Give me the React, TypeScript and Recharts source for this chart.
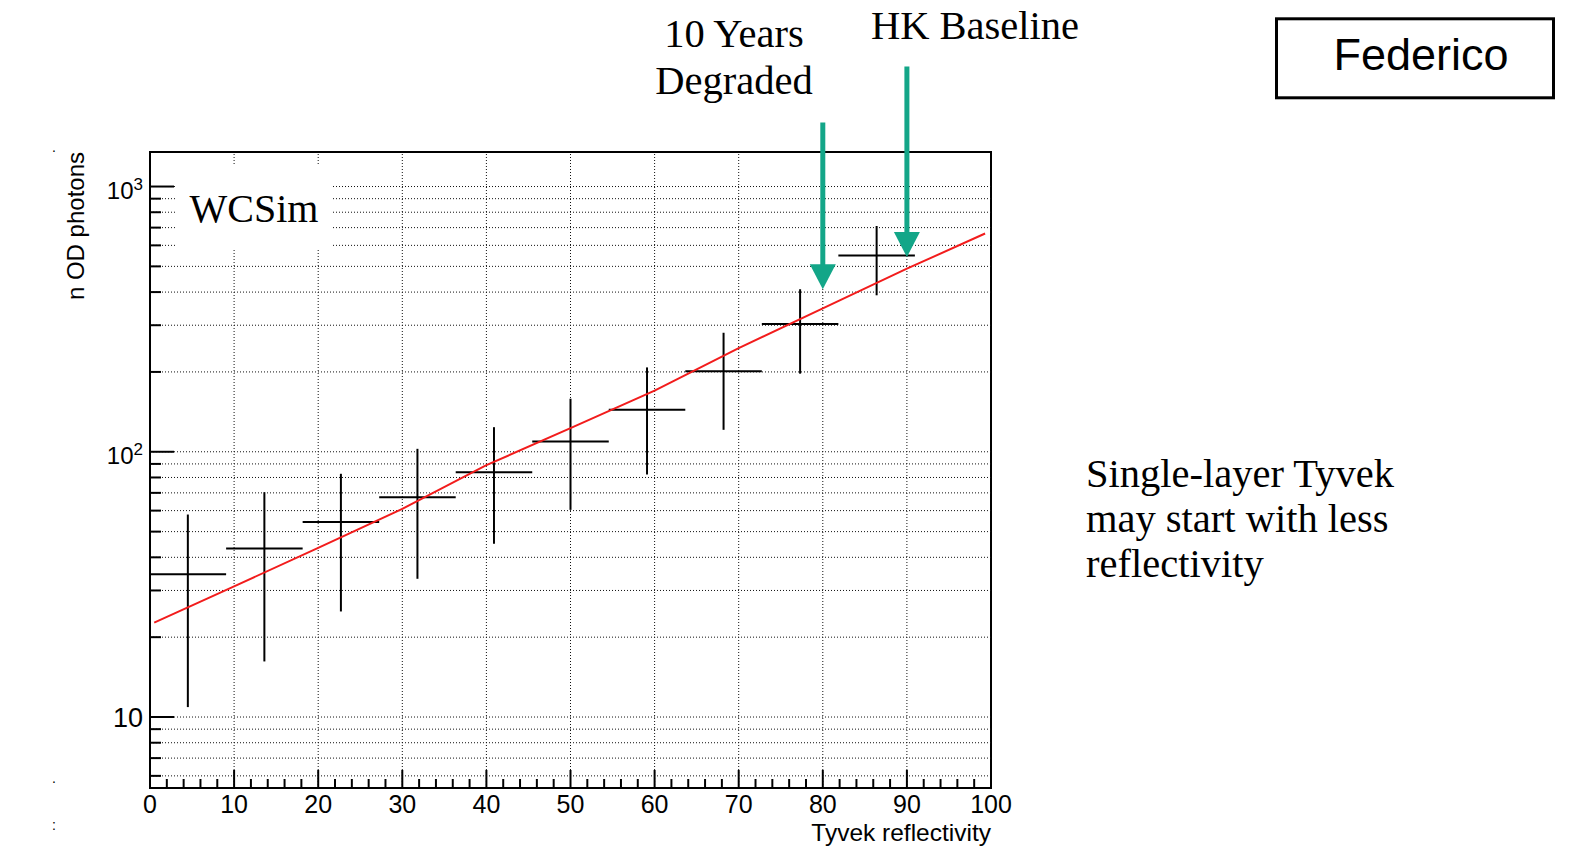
import React from "react";
import {
  ErrorBar,
  ReferenceArea,
  ReferenceLine,
  Scatter,
  ScatterChart,
  XAxis,
  YAxis,
} from "recharts";

// Bin centres (Tyvek reflectivity, %) and half bin width
const binCenter = [4.5, 13.6, 22.7, 31.8, 40.9, 50.0, 59.1, 68.2, 77.3, 86.4];
const binHalfWidth = [4.55, 4.55, 4.55, 4.55, 4.55, 4.55, 4.55, 4.55, 4.55, 4.55];
// n OD photons per bin, with the bottom / top of each error bar
const nPhotons = [34.5, 43.2, 54.3, 67.4, 83.8, 109.4, 144, 201, 303, 549];
const nLow = [10.9, 16.2, 25.0, 33.2, 45.0, 60.4, 82.1, 121, 197, 389];
const nHigh = [58.0, 70.4, 82.6, 102.6, 123.8, 158.5, 208, 281, 410, 710];

// red exponential fit
const fitX = [0.5, 10, 20, 30, 40, 50, 60, 70, 80, 90, 99.3];
const fitY = [22.7, 31.1, 43.4, 60.9, 89, 122.7, 170, 246, 347, 490, 665];

// arrows: "10 Years Degraded" and "HK Baseline"
const arrowX = [80, 90];
const arrowTop = [1745, 2832];
const arrowTip = [410, 542];

const xTicks = [
  0, 2, 4, 6, 8, 10, 12, 14, 16, 18, 20, 22, 24, 26, 28, 30, 32, 34, 36, 38, 40,
  42, 44, 46, 48, 50, 52, 54, 56, 58, 60, 62, 64, 66, 68, 70, 72, 74, 76, 78, 80,
  82, 84, 86, 88, 90, 92, 94, 96, 98, 100,
];
const xGrid = [10, 20, 30, 40, 50, 60, 70, 80, 90];
const yTicks = [
  6, 7, 8, 9, 10, 20, 30, 40, 50, 60, 70, 80, 90, 100, 200, 300, 400, 500, 600,
  700, 800, 900, 1000,
];
const yMajor = [10, 100, 1000];
const yDomain: [number, number] = [5.4, 1349.5];

const W = 1573;
const H = 847;
const PLOT_LEFT = 150;
const PLOT_RIGHT = 991;
const PLOT_TOP = 152;
const PLOT_BOTTOM = 788;

const TEAL = "#13a688";
const RED = "#f21c1c";
const SANS = "'Liberation Sans', Arial, Helvetica, sans-serif";
const SERIF = "'Liberation Serif', 'Times New Roman', serif";

const points = binCenter.map((x, i) => ({
  x,
  y: nPhotons[i],
  ex: binHalfWidth[i],
  ey: [nPhotons[i] - nLow[i], nHigh[i] - nPhotons[i]],
}));
const fit = fitX.map((x, i) => ({ x, y: fitY[i] }));

function XTick(props: any) {
  const { x, payload } = props;
  const v = payload.value as number;
  const major = v % 10 === 0;
  return (
    <g>
      <line
        x1={x}
        x2={x}
        y1={PLOT_BOTTOM}
        y2={PLOT_BOTTOM - (major ? 18 : 9)}
        stroke="#000"
        strokeWidth={2}
      />
      {major && (
        <text x={x} y={PLOT_BOTTOM + 25} textAnchor="middle" fontSize={25} fontFamily={SANS} fill="#000">
          {v}
        </text>
      )}
    </g>
  );
}

function YTick(props: any) {
  const { y, payload } = props;
  const v = payload.value as number;
  const major = yMajor.includes(v);
  const exp = Math.round(Math.log10(v));
  return (
    <g>
      <line
        x1={PLOT_LEFT}
        x2={PLOT_LEFT + (major ? 24 : 11)}
        y1={y}
        y2={y}
        stroke="#000"
        strokeWidth={2}
      />
      {major &&
        (exp === 1 ? (
          <text x={143} y={y + 10} textAnchor="end" fontSize={27} fontFamily={SANS} fill="#000">
            10
          </text>
        ) : (
          <text x={143} y={y + 12} textAnchor="end" fontSize={24} fontFamily={SANS} fill="#000">
            10
            <tspan dy={-9} fontSize={17}>
              {exp}
            </tspan>
          </text>
        ))}
    </g>
  );
}

function Arrow(props: any) {
  const { x1, y1, x2, y2 } = props;
  const head = 25;
  return (
    <g>
      <line x1={x1} y1={y1} x2={x2} y2={y2 - head + 1} stroke={TEAL} strokeWidth={5} />
      <polygon
        points={`${x2 - 13},${y2 - head} ${x2 + 13},${y2 - head} ${x2},${y2}`}
        fill={TEAL}
      />
    </g>
  );
}

export default function App() {
  return (
    <div style={{ position: "absolute", left: 0, top: 0, width: W, height: H, background: "#fff" }}>
      <ScatterChart
        width={W}
        height={H}
        margin={{ top: PLOT_TOP, right: W - PLOT_RIGHT, bottom: 0, left: 0 }}
      >
        <XAxis
          type="number"
          dataKey="x"
          domain={[0, 100]}
          ticks={xTicks}
          interval={0}
          height={H - PLOT_BOTTOM}
          axisLine={false}
          tickLine={false}
          tick={(p: any) => <XTick {...p} />}
          allowDataOverflow
        />
        <YAxis
          type="number"
          dataKey="y"
          scale="log"
          domain={yDomain}
          ticks={yTicks}
          interval={0}
          width={PLOT_LEFT}
          axisLine={false}
          tickLine={false}
          tick={(p: any) => <YTick {...p} />}
          allowDataOverflow
        />
        {xGrid.map((v) => (
          <ReferenceLine key={`gx${v}`} x={v} stroke="#111" strokeWidth={1} strokeDasharray="1 2" />
        ))}
        {yTicks.map((v) => (
          <ReferenceLine key={`gy${v}`} y={v} stroke="#111" strokeWidth={1} strokeDasharray="1 2" />
        ))}
        <ReferenceArea
          x1={0}
          x2={100}
          y1={yDomain[0]}
          y2={yDomain[1]}
          fill="none"
          fillOpacity={0}
          stroke="#000"
          strokeWidth={2}
          ifOverflow="visible"
        />
        <Scatter
          data={fit}
          fill={RED}
          stroke={RED}
          line={{ stroke: RED, strokeWidth: 2 }}
          shape={() => <g />}
          isAnimationActive={false}
        />
        <Scatter data={points} fill="#000" shape={() => <g />} isAnimationActive={false}>
          <ErrorBar dataKey="ex" direction="x" width={0} stroke="#000" strokeWidth={2} isAnimationActive={false} />
          <ErrorBar dataKey="ey" direction="y" width={0} stroke="#000" strokeWidth={2} isAnimationActive={false} />
        </Scatter>
        {arrowX.map((x, i) => (
          <ReferenceLine
            key={`arrow${i}`}
            segment={[
              { x, y: arrowTop[i] },
              { x, y: arrowTip[i] },
            ]}
            ifOverflow="visible"
            shape={(p: any) => <Arrow {...p} />}
          />
        ))}
      </ScatterChart>
      <svg
        width={W}
        height={H}
        style={{ position: "absolute", left: 0, top: 0, pointerEvents: "none" }}
      >
        <rect x={176} y={165} width={155} height={83} fill="#fff" />
        <text x={254} y={222} textAnchor="middle" fontSize={40} fontFamily={SERIF} fill="#000">
          WCSim
        </text>
        <text
          transform={`translate(84, ${PLOT_TOP}) rotate(-90)`}
          textAnchor="end"
          fontSize={24}
          fontFamily={SANS}
          fill="#000"
        >
          n OD photons
        </text>
        <text x={PLOT_RIGHT} y={841} textAnchor="end" fontSize={24.5} fontFamily={SANS} fill="#000">
          Tyvek reflectivity
        </text>
        <text x={734} y={47} textAnchor="middle" fontSize={40.5} fontFamily={SERIF} fill="#000">
          10 Years
        </text>
        <text x={734} y={94} textAnchor="middle" fontSize={40.5} fontFamily={SERIF} fill="#000">
          Degraded
        </text>
        <text x={975} y={39} textAnchor="middle" fontSize={40.5} fontFamily={SERIF} fill="#000">
          HK Baseline
        </text>
        <rect x={1276.5} y={18.8} width={277} height={79} fill="none" stroke="#000" strokeWidth={3} />
        <text x={1421} y={70} textAnchor="middle" fontSize={45} fontFamily={SANS} fill="#000">
          Federico
        </text>
        <text fontSize={40.5} fontFamily={SERIF} fill="#000">
          <tspan x={1086} y={487}>Single-layer Tyvek</tspan>
          <tspan x={1086} y={532}>may start with less</tspan>
          <tspan x={1086} y={577}>reflectivity</tspan>
        </text>
        <text x={52} y={152} fontSize={14} fontFamily={SANS} fill="#000">.</text>
        <text x={52} y={783} fontSize={14} fontFamily={SANS} fill="#000">.</text>
        <text x={52} y={830} fontSize={14} fontFamily={SANS} fill="#000">:</text>
      </svg>
    </div>
  );
}
